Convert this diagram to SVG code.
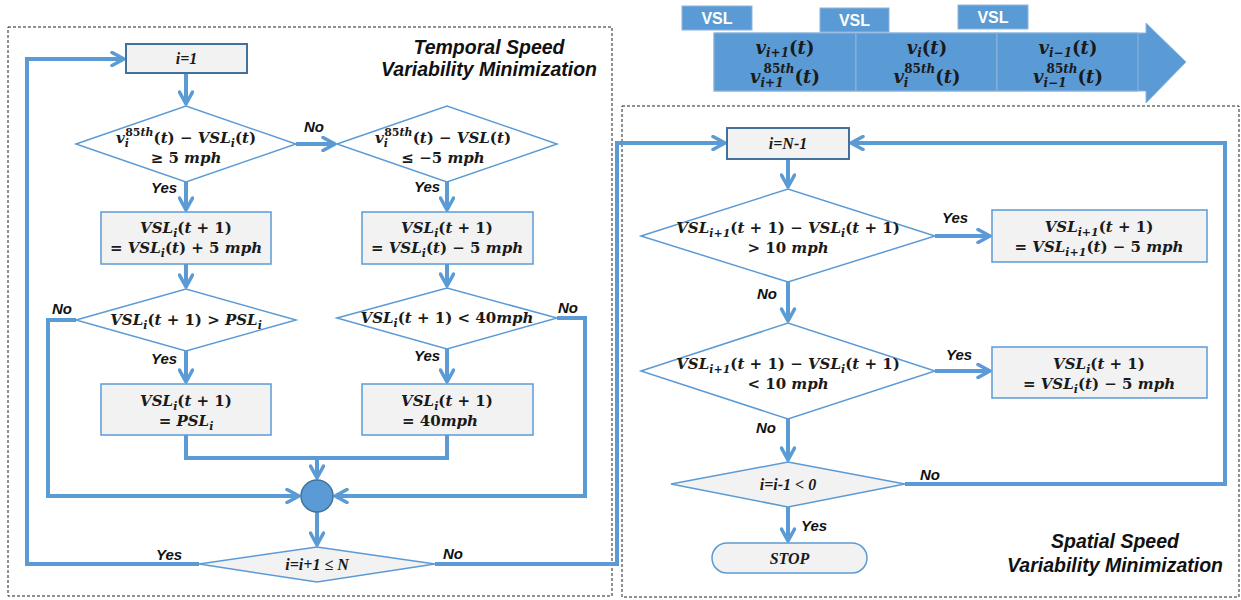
<svg xmlns="http://www.w3.org/2000/svg" width="1241" height="600" viewBox="0 0 1241 600">
<defs>
<marker id="ah" viewBox="0 0 16 16" refX="14" refY="8" markerWidth="16" markerHeight="16" markerUnits="userSpaceOnUse" orient="auto">
<path d="M2,1.5 L14,8 L2,14.5" fill="none" stroke="#5b9bd5" stroke-width="3.5" stroke-linecap="round" stroke-linejoin="round"/>
</marker>
</defs>
<style>
.conn{fill:none;stroke:#5b9bd5;stroke-width:4}
.arr{marker-end:url(#ah)}
.dia{fill:#fff;stroke:#5b9bd5;stroke-width:1.5}
.dia2{fill:#f2f2f2;stroke:#5b9bd5;stroke-width:1.5}
.box{fill:#f2f2f2;stroke:#5b9bd5;stroke-width:1.5}
.box2{fill:#f2f2f2;stroke:#41719c;stroke-width:2}
.frame{fill:none;stroke:#222;stroke-width:1;stroke-dasharray:3 2}
.m{font-family:"DejaVu Serif","Liberation Serif",serif;font-weight:bold;font-style:italic;font-size:15px;fill:#1a1a1a;text-anchor:middle}
.mt{font-family:"DejaVu Serif","Liberation Serif",serif;font-weight:bold;font-style:italic;font-size:18px;fill:#1a1a1a;text-anchor:middle}
.u{font-style:normal}
.s{font-size:11px}
.st{font-size:12px}
.t{font-family:"Liberation Serif",serif;font-weight:bold;font-style:italic;font-size:16px;fill:#1a1a1a;text-anchor:middle}
.lbl{font-family:"Liberation Sans",Arial,sans-serif;font-weight:bold;font-style:italic;font-size:15px;fill:#111}
.title{font-family:"Liberation Sans",Arial,sans-serif;font-weight:bold;font-style:italic;font-size:19.5px;fill:#111;text-anchor:middle}
.vsl{fill:#5b9bd5;stroke:#8fb4de;stroke-width:1}
.vslt{font-family:"Liberation Sans",Arial,sans-serif;font-weight:bold;font-size:16px;fill:#fff;text-anchor:middle}
</style>
<rect width="1241" height="600" fill="#fff"/>

<g id="frames">
<rect class="frame" x="8" y="27" width="604" height="569"/>
<rect class="frame" x="622" y="106" width="617" height="491"/>
<text class="title" x="489" y="54">Temporal Speed</text>
<text class="title" x="489" y="76">Variability Minimization</text>
<text class="title" x="1115" y="548">Spatial Speed</text>
<text class="title" x="1115" y="572">Variability Minimization</text>
</g>

<g id="road">
<polygon points="714,33 1146,33 1146,23 1186,62 1146,103 1146,91 714,91" fill="#5b9bd5" stroke="#8fb4de" stroke-width="1"/>
<rect x="714" y="33" width="142" height="58" fill="#5b9bd5" stroke="#8fb4de" stroke-width="1"/>
<rect x="856" y="33" width="141" height="58" fill="#5b9bd5" stroke="#8fb4de" stroke-width="1"/>
<rect x="997" y="33" width="141" height="58" fill="#5b9bd5" stroke="#8fb4de" stroke-width="1"/>
<text class="mt" x="785" y="54">v<tspan class="st" dy="3">i+1</tspan><tspan class="u" dy="-3">(</tspan>t<tspan class="u">)</tspan></text>
<text class="mt" x="785" y="83">v<tspan class="st" dy="4">i+1</tspan><tspan class="st" dx="-20" dy="-14"><tspan class="u">85</tspan>th</tspan><tspan class="u" dy="10">(</tspan>t<tspan class="u">)</tspan></text>
<text class="mt" x="927" y="54">v<tspan class="st" dy="3">i</tspan><tspan class="u" dy="-3">(</tspan>t<tspan class="u">)</tspan></text>
<text class="mt" x="927" y="83">v<tspan class="st" dy="4">i</tspan><tspan class="st" dx="-4.2" dy="-14"><tspan class="u">85</tspan>th</tspan><tspan class="u" dy="10">(</tspan>t<tspan class="u">)</tspan></text>
<text class="mt" x="1068" y="54">v<tspan class="st" dy="3">i−1</tspan><tspan class="u" dy="-3">(</tspan>t<tspan class="u">)</tspan></text>
<text class="mt" x="1068" y="83">v<tspan class="st" dy="4">i−1</tspan><tspan class="st" dx="-20" dy="-14"><tspan class="u">85</tspan>th</tspan><tspan class="u" dy="10">(</tspan>t<tspan class="u">)</tspan></text>
</g>
<g id="vsl1"><rect class="vsl" x="682" y="6" width="70" height="24"/><text class="vslt" x="717" y="24">VSL</text></g>
<g id="vsl2"><rect class="vsl" x="820" y="8" width="69" height="24"/><text class="vslt" x="854.5" y="26">VSL</text></g>
<g id="vsl3"><rect class="vsl" x="958" y="5" width="70" height="24"/><text class="vslt" x="993" y="23">VSL</text></g>

<g id="connectors">
<path class="conn arr" d="M186,73 V104"/>
<path class="conn arr" d="M186,182 V210"/>
<path class="conn arr" d="M186,264 V287"/>
<path class="conn arr" d="M186,351 V382"/>
<path class="conn arr" d="M76,320 H48 V496 H299"/>
<path class="conn" d="M447,435 V458 H317"/>
<path class="conn arr" d="M186,435 V458 H317 V478"/>
<path class="conn arr" d="M296,144 H335"/>
<path class="conn arr" d="M447,182 V210"/>
<path class="conn arr" d="M447,264 V286"/>
<path class="conn arr" d="M447,349 V382"/>
<path class="conn arr" d="M557,318 H585 V496 H335"/>
<path class="conn arr" d="M317,512 V545"/>
<path class="conn arr" d="M199,564 H27 V59 H124"/>
<path class="conn arr" d="M435,564 H617 V143 H725"/>
<path class="conn arr" d="M788,159 V187"/>
<path class="conn arr" d="M935,236 H990"/>
<path class="conn arr" d="M788,282 V321"/>
<path class="conn arr" d="M935,371 H990"/>
<path class="conn arr" d="M788,419 V460"/>
<path class="conn arr" d="M788,507 V541"/>
<path class="conn arr" d="M905,484 H1225 V143 H851"/>
<text class="lbl" x="304" y="132">No</text>
<text class="lbl" x="151" y="193">Yes</text>
<text class="lbl" x="414" y="192">Yes</text>
<text class="lbl" x="52" y="314">No</text>
<text class="lbl" x="151" y="364">Yes</text>
<text class="lbl" x="558" y="313">No</text>
<text class="lbl" x="414" y="361">Yes</text>
<text class="lbl" x="156" y="560">Yes</text>
<text class="lbl" x="443" y="559">No</text>
<text class="lbl" x="942" y="223">Yes</text>
<text class="lbl" x="757" y="299">No</text>
<text class="lbl" x="946" y="360">Yes</text>
<text class="lbl" x="756" y="433">No</text>
<text class="lbl" x="920" y="480">No</text>
<text class="lbl" x="801" y="531">Yes</text>
</g>

<g id="start">
<rect class="box2" x="126" y="44" width="121" height="29"/>
<text class="t" x="186.5" y="64">i=1</text>
</g>
<g id="cond1">
<polygon class="dia" points="76,144 186,106 296,144 186,182"/>
<text class="m" x="186" y="143">v<tspan class="s" dy="4">i</tspan><tspan class="s" dx="-3.7" dy="-11"><tspan class="u">85</tspan>th</tspan><tspan class="u" dy="7">(</tspan>t<tspan class="u">) − </tspan>VSL<tspan class="s" dy="4">i</tspan><tspan class="u" dy="-4">(</tspan>t<tspan class="u">)</tspan></text>
<text class="m" x="186" y="163"><tspan class="u">≥ 5 </tspan>mph</text>
</g>
<g id="cond2">
<polygon class="dia" points="337,144 447,106 557,144 447,182"/>
<text class="m" x="443" y="143">v<tspan class="s" dy="4">i</tspan><tspan class="s" dx="-3.7" dy="-11"><tspan class="u">85</tspan>th</tspan><tspan class="u" dy="7">(</tspan>t<tspan class="u">) − </tspan>VSL<tspan class="u">(</tspan>t<tspan class="u">)</tspan></text>
<text class="m" x="443" y="163"><tspan class="u">≤ −5 </tspan>mph</text>
</g>
<g id="inc">
<rect class="box" x="101" y="212" width="170" height="52"/>
<text class="m" x="186" y="233">VSL<tspan class="s" dy="4">i</tspan><tspan class="u" dy="-4">(</tspan>t<tspan class="u"> + 1)</tspan></text>
<text class="m" x="186" y="253"><tspan class="u">= </tspan>VSL<tspan class="s" dy="4">i</tspan><tspan class="u" dy="-4">(</tspan>t<tspan class="u">) + 5 </tspan>mph</text>
</g>
<g id="dec">
<rect class="box" x="362" y="212" width="171" height="52"/>
<text class="m" x="447" y="233">VSL<tspan class="s" dy="4">i</tspan><tspan class="u" dy="-4">(</tspan>t<tspan class="u"> + 1)</tspan></text>
<text class="m" x="447" y="253"><tspan class="u">= </tspan>VSL<tspan class="s" dy="4">i</tspan><tspan class="u" dy="-4">(</tspan>t<tspan class="u">) − 5 </tspan>mph</text>
</g>
<g id="cond3">
<polygon class="dia" points="76,320 186,289 296,320 186,351"/>
<text class="m" x="186" y="325">VSL<tspan class="s" dy="4">i</tspan><tspan class="u" dy="-4">(</tspan>t<tspan class="u"> + 1) &gt; </tspan>PSL<tspan class="s" dy="4">i</tspan></text>
</g>
<g id="cond4">
<polygon class="dia" points="337,318 447,288 557,318 447,349"/>
<text class="m" x="447" y="323">VSL<tspan class="s" dy="4">i</tspan><tspan class="u" dy="-4">(</tspan>t<tspan class="u"> + 1) &lt; 40</tspan>mph</text>
</g>
<g id="setpsl">
<rect class="box" x="101" y="384" width="170" height="51"/>
<text class="m" x="186" y="406">VSL<tspan class="s" dy="4">i</tspan><tspan class="u" dy="-4">(</tspan>t<tspan class="u"> + 1)</tspan></text>
<text class="m" x="186" y="426"><tspan class="u">= </tspan>PSL<tspan class="s" dy="4">i</tspan></text>
</g>
<g id="set40">
<rect class="box" x="362" y="384" width="171" height="51"/>
<text class="m" x="447" y="406">VSL<tspan class="s" dy="4">i</tspan><tspan class="u" dy="-4">(</tspan>t<tspan class="u"> + 1)</tspan></text>
<text class="m" x="440" y="426"><tspan class="u">= 40</tspan>mph</text>
</g>
<g id="merge">
<circle cx="317" cy="496" r="16" fill="#5b9bd5" stroke="#41719c" stroke-width="1.5"/>
</g>
<g id="loop1">
<polygon class="dia2" points="199,564 317,547 435,564 317,582"/>
<text class="t" x="317" y="570">i=i+1 ≤ N</text>
</g>

<g id="start2">
<rect class="box2" x="727" y="128" width="122" height="31"/>
<text class="t" x="788" y="149">i=N-1</text>
</g>
<g id="condA">
<polygon class="dia" points="641,236 788,189 935,236 788,282"/>
<text class="m" x="788" y="233">VSL<tspan class="s" dy="4">i+1</tspan><tspan class="u" dy="-4">(</tspan>t<tspan class="u"> + 1) − </tspan>VSL<tspan class="s" dy="4">i</tspan><tspan class="u" dy="-4">(</tspan>t<tspan class="u"> + 1)</tspan></text>
<text class="m" x="788" y="253"><tspan class="u">&gt; 10 </tspan>mph</text>
</g>
<g id="condB">
<polygon class="dia" points="641,371 788,323 935,371 788,419"/>
<text class="m" x="788" y="369">VSL<tspan class="s" dy="4">i+1</tspan><tspan class="u" dy="-4">(</tspan>t<tspan class="u"> + 1) − </tspan>VSL<tspan class="s" dy="4">i</tspan><tspan class="u" dy="-4">(</tspan>t<tspan class="u"> + 1)</tspan></text>
<text class="m" x="788" y="389"><tspan class="u">&lt; 10 </tspan>mph</text>
</g>
<g id="decA">
<rect class="box" x="992" y="210" width="215" height="52"/>
<text class="m" x="1099" y="232">VSL<tspan class="s" dy="4">i+1</tspan><tspan class="u" dy="-4">(</tspan>t<tspan class="u"> + 1)</tspan></text>
<text class="m" x="1099" y="252"><tspan class="u">= </tspan>VSL<tspan class="s" dy="4">i+1</tspan><tspan class="u" dy="-4">(</tspan>t<tspan class="u">) − 5 </tspan>mph</text>
</g>
<g id="decB">
<rect class="box" x="992" y="347" width="215" height="51"/>
<text class="m" x="1099" y="369">VSL<tspan class="s" dy="4">i</tspan><tspan class="u" dy="-4">(</tspan>t<tspan class="u"> + 1)</tspan></text>
<text class="m" x="1099" y="389"><tspan class="u">= </tspan>VSL<tspan class="s" dy="4">i</tspan><tspan class="u" dy="-4">(</tspan>t<tspan class="u">) − 5 </tspan>mph</text>
</g>
<g id="loop2">
<polygon class="dia2" points="671,484 788,462 905,484 788,507"/>
<text class="t" x="788" y="490">i=i-1 &lt; 0</text>
</g>
<g id="stop">
<rect class="box" x="712" y="543" width="155" height="30" rx="15" ry="15" stroke="#41719c"/>
<text class="t" x="789.5" y="564">STOP</text>
</g>
</svg>
